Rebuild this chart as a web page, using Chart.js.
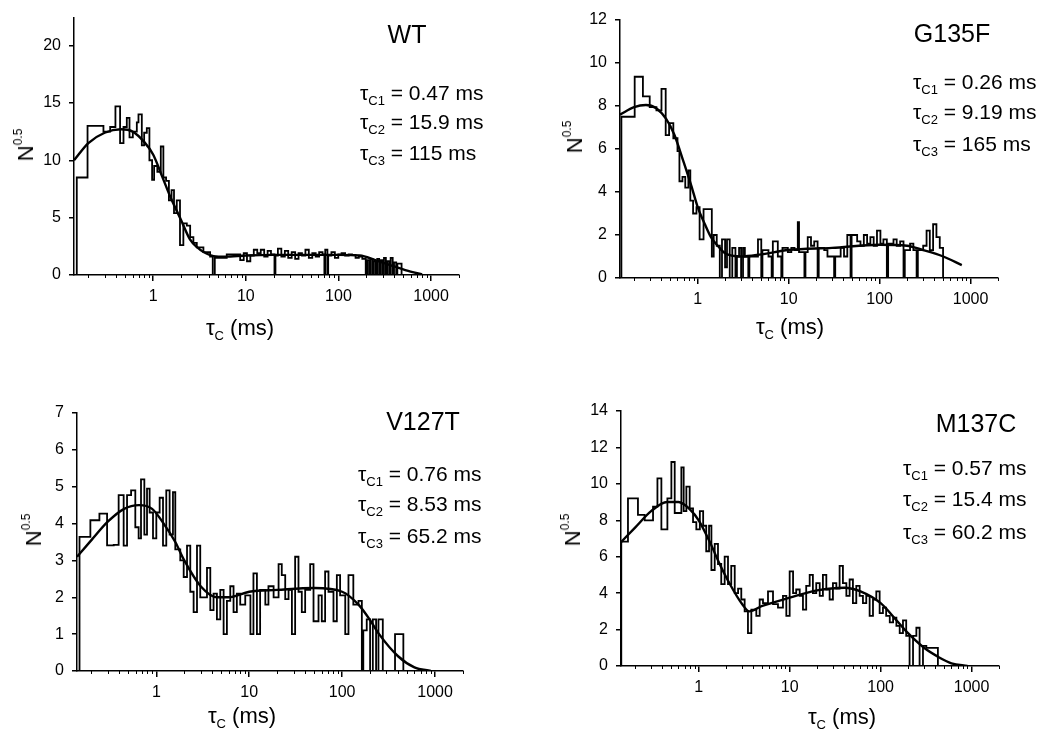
<!DOCTYPE html>
<html>
<head>
<meta charset="utf-8">
<script src="https://cdn.jsdelivr.net/npm/chart.js@4.4.1/dist/chart.umd.min.js"></script>
<style>
  body { margin: 0; background: #fff; width: 1063px; height: 736px; overflow: hidden; position: relative;
         font-family: "Liberation Sans", Arial, sans-serif; color: #000; }
  canvas { position: absolute; left: 0; top: 0; }
  .lbl { position: absolute; white-space: nowrap; line-height: 1; }
  .title { font-size: 25px; transform: translate(-50%, -50%); }
  .tau { font-size: 21px; transform: translateY(-50%); }
  .axt { font-size: 22px; transform: translate(-50%, -50%); }
  .rot { font-size: 22px; transform: translate(-50%, -50%) rotate(-90deg); }
  sub { font-size: 13px; vertical-align: -5px; line-height: 0; }
  sup { font-size: 12px; vertical-align: 11px; line-height: 0; }
</style>
</head>
<body>
<canvas id="cWT" width="1063" height="736"></canvas>
<canvas id="cG135F" width="1063" height="736"></canvas>
<canvas id="cV127T" width="1063" height="736"></canvas>
<canvas id="cM137C" width="1063" height="736"></canvas>

<!-- textos de los paneles -->
<div class="lbl title" style="left:407px; top:34px">WT</div>
<div class="lbl tau" style="left:360px; top:92px">τ<sub>C1</sub> = 0.47 ms</div>
<div class="lbl tau" style="left:360px; top:121px">τ<sub>C2</sub> = 15.9 ms</div>
<div class="lbl tau" style="left:360px; top:152px">τ<sub>C3</sub> = 115 ms</div>
<div class="lbl axt" style="left:240px; top:328px">τ<sub>C</sub> (ms)</div>
<div class="lbl rot" style="left:26px; top:145px">N<sup>0.5</sup></div>

<div class="lbl title" style="left:952px; top:33px">G135F</div>
<div class="lbl tau" style="left:913px; top:81px">τ<sub>C1</sub> = 0.26 ms</div>
<div class="lbl tau" style="left:913px; top:111px">τ<sub>C2</sub> = 9.19 ms</div>
<div class="lbl tau" style="left:913px; top:143px">τ<sub>C3</sub> = 165 ms</div>
<div class="lbl axt" style="left:790px; top:327px">τ<sub>C</sub> (ms)</div>
<div class="lbl rot" style="left:575px; top:137px">N<sup>0.5</sup></div>

<div class="lbl title" style="left:423px; top:421px">V127T</div>
<div class="lbl tau" style="left:358px; top:473px">τ<sub>C1</sub> = 0.76 ms</div>
<div class="lbl tau" style="left:358px; top:503px">τ<sub>C2</sub> = 8.53 ms</div>
<div class="lbl tau" style="left:358px; top:535px">τ<sub>C3</sub> = 65.2 ms</div>
<div class="lbl axt" style="left:242px; top:716px">τ<sub>C</sub> (ms)</div>
<div class="lbl rot" style="left:34px; top:530px">N<sup>0.5</sup></div>

<div class="lbl title" style="left:976px; top:423px">M137C</div>
<div class="lbl tau" style="left:903px; top:467px">τ<sub>C1</sub> = 0.57 ms</div>
<div class="lbl tau" style="left:903px; top:498px">τ<sub>C2</sub> = 15.4 ms</div>
<div class="lbl tau" style="left:903px; top:531px">τ<sub>C3</sub> = 60.2 ms</div>
<div class="lbl axt" style="left:842px; top:717px">τ<sub>C</sub> (ms)</div>
<div class="lbl rot" style="left:573px; top:530px">N<sup>0.5</sup></div>

<script>
// ejes x (log, ms)
const xMajorTicks = [1, 10, 100, 1000];
const xMinorTicks = [0.2, 0.3, 0.4, 0.5, 0.6, 0.7, 0.8, 0.9,
  2, 3, 4, 5, 6, 7, 8, 9, 20, 30, 40, 50, 60, 70, 80, 90,
  200, 300, 400, 500, 600, 700, 800, 900, 2000];

/*------------------------------------------
WT
-------------------------------------------*/
const wtEdges = [0.15, 0.196, 0.291, 0.344, 0.392, 0.44, 0.479, 0.52, 0.556, 0.604,
  0.667, 0.695, 0.755, 0.80, 0.855, 0.912, 0.975, 1.025, 1.11, 1.21,
  1.29, 1.38, 1.48, 1.58, 1.68, 1.80, 1.95, 2.12, 2.31, 2.51,
  2.72, 2.96, 3.49, 4.12, 4.40, 4.63, 5.28, 6.23, 8.0,
  8.7, 9.5, 10.3, 11.2, 12.2, 13.3, 14.5, 15.8, 17.2, 18.7,
  20.4, 20.9, 22.2, 24.2, 26.4, 28.7, 31.3, 34.1, 37.1, 40.4,
  44, 47.9, 52.2, 56.8, 61.9, 67.4, 70.5, 72, 76, 77.5,
  84, 91.5, 99.6, 108, 118, 129, 140, 153, 166, 181,
  197, 205, 215, 222, 233, 241, 253, 262, 275, 285,
  299, 310, 325, 337, 354, 366, 385, 398, 420, 432, 480];
const wtCounts = [8.5, 13.0, 12.5, 12.9, 14.7, 11.5, 12.9, 13.7, 12.0, 12.5,
  13.3, 14.0, 11.3, 12.4, 12.8, 10.0, 8.3, 9.5, 9.0, 11.2,
  8.5, 8.2, 6.5, 7.4, 5.4, 6.5, 2.6, 4.5, 4.3, 3.3,
  2.8, 2.4, 2.0, 1.6, 0, 1.5, 1.5, 1.8,
  1.8, 1.3, 1.9, 1.2, 1.7, 2.2, 1.9, 2.2, 1.6, 2.1,
  1.8, 0, 1.7, 2.3, 1.6, 2.1, 1.5, 2.0, 1.4, 1.9,
  1.7, 2.2, 1.5, 1.9, 1.6, 2.0, 1.8, 0, 2.2, 0,
  1.7, 2.0, 1.5, 1.8, 1.9, 1.7, 1.8, 1.75, 1.5, 1.6,
  1.4, 0, 1.3, 0, 1.4, 0, 1.2, 0, 1.4, 0,
  1.3, 0, 1.5, 0, 1.2, 0, 1.5, 0, 1.1, 0, 1.0];
const wtFitX = [0.14, 0.2, 0.3, 0.45, 0.6, 0.8, 1.0, 1.25, 1.5, 2.0, 2.5, 3.0, 3.5, 4.5,
  6, 10, 20, 50, 100, 170, 250, 400, 600, 800];
const wtFitY = [10.0, 11.5, 12.4, 12.7, 12.5, 11.6, 10.5, 8.6, 7.0, 4.8, 3.1, 2.4, 2.0, 1.65,
  1.6, 1.7, 1.75, 1.75, 1.75, 1.7, 1.3, 0.75, 0.3, 0.05];
const wtYTicks = [0, 5, 10, 15, 20];

/*------------------------------------------
G135F
-------------------------------------------*/
const g135fEdges = [0.145, 0.203, 0.25, 0.297, 0.352, 0.40, 0.445, 0.485, 0.54, 0.60,
  0.63, 0.68, 0.73, 0.79, 0.83, 0.89, 0.97, 1.05, 1.16, 1.43,
  1.5, 1.62, 1.75, 1.85, 2.0, 2.1, 2.25, 2.4, 2.6, 2.7,
  2.85, 3.0, 3.15, 3.3, 3.6,
  3.7, 4.6, 5.0, 5.15, 6.0, 6.5, 6.7, 7.6, 8.3, 8.55,
  9.8, 10.7, 11.6, 12.6, 13.0, 14.9, 15.3, 16.2, 17.6, 19.1,
  20.8, 21.4, 24.6, 26.7, 31.6, 32.5, 37.3, 40.6, 44.1, 47.9,
  49.2, 56.6, 61.6, 67, 72.8, 79.1, 86, 93.5, 102, 110,
  120, 124, 142, 154, 168, 183, 189, 216, 235, 255,
  263, 301, 328, 356, 387, 421, 458, 498];
const g135fCounts = [7.5, 9.36, 8.45, 7.95, 7.8, 8.8, 6.65, 7.2, 6.5, 5.9,
  4.5, 4.7, 4.2, 5.0, 3.6, 3.0, 3.3, 1.8, 3.2, 1.0,
  2.0, 1.5, 0, 1.8, 0.5, 1.8, 0, 1.4, 0, 1.0,
  1.4, 0, 1.4, 1.0,
  0, 1.0, 1.8, 0, 1.3, 1.0, 0, 1.7, 1.0, 0,
  1.4, 1.2, 1.4, 1.3, 2.6, 1.2, 0, 1.2, 1.9, 1.5,
  1.7, 0, 1.4, 1.3, 1.0, 0, 1.0, 1.4, 1.0, 2.0,
  0, 2.0, 1.7, 1.5, 2.0, 1.6, 1.9, 1.5, 2.2, 1.6,
  1.8, 0, 1.6, 1.8, 1.5, 1.7, 0, 1.3, 1.6, 1.3,
  0, 1.3, 1.5, 2.2, 1.3, 2.5, 1.9, 1.4];
const g135fFitX = [0.14, 0.2, 0.27, 0.35, 0.45, 0.55, 0.7, 0.85, 1.0, 1.2, 1.4, 1.7, 2.0,
  3.0, 5, 10, 30, 100, 200, 300, 500, 800];
const g135fFitY = [7.6, 7.95, 8.05, 7.9, 7.4, 6.7, 5.4, 4.3, 3.3, 2.5, 1.9, 1.45, 1.15,
  1.0, 1.1, 1.3, 1.4, 1.55, 1.5, 1.3, 1.0, 0.6];
const g135fYTicks = [0, 2, 4, 6, 8, 10, 12];

/*------------------------------------------
V127T
-------------------------------------------*/
const v127tEdges = [0.149, 0.195, 0.244, 0.295, 0.348, 0.393, 0.445, 0.484, 0.535, 0.594,
  0.645, 0.684, 0.743, 0.794, 0.847, 0.921, 1.0, 1.086, 1.18, 1.28,
  1.39, 1.51, 1.60, 1.81, 1.97, 2.14, 2.32, 2.52, 2.74, 2.97,
  3.51, 3.81, 4.13, 4.49, 4.88, 5.30, 5.75, 6.25, 6.78, 7.36,
  8.00, 9.06, 10.3, 11.1, 12.1, 13.1, 14.9, 16.1, 18.3, 20.7,
  22.4, 24.4, 26.5, 28.8, 31.2, 33.9, 36.8, 40.0, 45.3, 49.2,
  55.7, 60.4, 65.6, 71.3, 80.7, 87.7, 95.1, 108, 117, 132,
  150, 163, 169, 184, 200, 214, 232, 246, 274, 371, 456];
const v127tCounts = [3.64, 4.09, 4.27, 3.41, 3.42, 4.77, 3.4, 4.77, 4.9, 3.9,
  3.6, 5.2, 3.7, 4.95, 4.3, 3.6, 4.3, 4.7, 3.4, 4.9,
  3.7, 4.85, 3.3, 3.0, 2.55, 3.4, 2.15, 1.6, 3.4, 2.0,
  2.8, 1.65, 2.1, 1.4, 2.2, 1.0, 1.9, 2.3, 1.6, 2.1,
  1.8, 2.05, 1.0, 2.65, 1.0, 2.2, 1.8, 2.3, 2.0, 2.9,
  2.6, 1.95, 2.2, 1.0, 3.1, 2.15, 1.6, 2.2, 2.9, 1.35,
  2.05, 1.35, 2.7, 2.15, 1.35, 2.6, 2.05, 1.0, 2.6, 1.8,
  1.9, 0, 1.1, 1.4, 0, 1.4, 0, 1.4, 0, 1.0];
const v127tFitX = [0.14, 0.2, 0.3, 0.45, 0.65, 0.9, 1.2, 1.6, 2.0, 3.0, 4.5, 6, 10, 20,
  50, 100, 150, 200, 250, 400, 600, 900];
const v127tFitY = [3.1, 3.55, 4.05, 4.4, 4.5, 4.4, 4.0, 3.5, 3.0, 2.3, 2.0, 2.0, 2.15, 2.2,
  2.25, 2.15, 1.8, 1.38, 1.0, 0.4, 0.1, 0.0];
const v127tYTicks = [0, 1, 2, 3, 4, 5, 6, 7];

/*------------------------------------------
M137C
-------------------------------------------*/
const m137cEdges = [0.141, 0.167, 0.215, 0.255, 0.315, 0.352, 0.389, 0.453, 0.501, 0.545,
  0.645, 0.684, 0.732, 0.796, 0.867, 0.942, 1.03, 1.12, 1.21, 1.30,
  1.38, 1.50, 1.63, 1.77, 1.93, 2.10, 2.28, 2.49, 2.71, 2.94,
  3.20, 3.48, 3.79, 4.30, 4.68, 5.09, 5.78, 6.56, 7.44, 8.44,
  9.19, 10.0, 10.9, 11.8, 12.9, 14.0, 15.2, 16.6, 18.0, 19.6,
  21.4, 23.2, 25.3, 27.5, 29.9, 32.6, 35.4, 38.5, 42.0, 45.6,
  49.6, 54.0, 58.8, 63.9, 69.5, 75.7, 82.4, 89.6, 97.5, 106,
  115, 126, 137, 149, 162, 176, 191, 208, 227, 247,
  268, 292, 318, 426];
const m137cCounts = [6.83, 9.2, 8.3, 8.0, 8.75, 10.3, 7.5, 9.2, 11.2, 8.4,
  10.9, 8.5, 9.85, 8.65, 7.9, 7.5, 8.5, 7.7, 6.3, 7.7,
  5.27, 6.7, 5.6, 4.5, 6.0, 4.5, 5.5, 4.0, 4.25, 3.65,
  3.0, 1.8, 3.1, 2.75, 3.65, 3.45, 4.1, 3.4, 3.2, 3.85,
  2.75, 5.2, 4.0, 4.2, 3.85, 3.1, 4.4, 5.0, 4.0, 4.55,
  3.85, 5.0, 4.2, 3.65, 4.55, 4.25, 5.5, 4.55, 3.85, 4.75,
  3.45, 4.4, 3.85, 3.45, 3.85, 2.75, 3.65, 4.1, 2.9, 3.2,
  2.75, 2.4, 2.65, 2.2, 1.8, 2.5, 1.65, 0, 1.65, 2.1,
  0, 1.1, 1.0];
const m137cFitX = [0.14, 0.2, 0.3, 0.45, 0.6, 0.8, 1.0, 1.3, 1.7, 2.2, 3.0, 3.6, 5, 10,
  20, 40, 60, 100, 150, 200, 300, 430, 600, 900];
const m137cFitY = [6.8, 7.6, 8.5, 9.0, 9.0, 8.6, 8.0, 6.9, 5.6, 4.5, 3.4, 3.0, 3.3, 3.75,
  4.15, 4.3, 4.1, 3.45, 2.5, 1.8, 1.0, 0.5, 0.15, 0.0];
const m137cYTicks = [0, 2, 4, 6, 8, 10, 12, 14];

// marcas menores del eje x
const minorTicksPlugin = {
  id: "minorTicks",
  afterDraw(chart) {
    const s = chart.scales.x;
    const c = chart.ctx;
    c.save();
    c.strokeStyle = "#000";
    c.lineWidth = 1;
    c.beginPath();
    xMinorTicks.forEach((v) => {
      const px = Math.round(s.getPixelForValue(v)) + 0.5;
      c.moveTo(px, s.top);
      c.lineTo(px, s.top + 3);
    });
    c.stroke();
    c.restore();
  },
};

// histograma escalonado a partir de bordes y cuentas
function histPoints(edges, counts) {
  const pts = [{ x: edges[0], y: 0 }];
  counts.forEach((c, i) => pts.push({ x: edges[i], y: c }));
  pts.push({ x: edges[edges.length - 1], y: 0 });
  return pts;
}

function fitPoints(xs, ys) {
  return xs.map((x, i) => ({ x: x, y: ys[i] }));
}

const tickFont = { family: "'Liberation Sans', Arial, sans-serif", size: 16 };

function makePanel(id, area, edges, counts, fitX, fitY, yMax, yTicks) {
  const W = 1063, H = 736, AX = 40;
  return new Chart(document.getElementById(id).getContext("2d"), {
    type: "line",
    data: {
      datasets: [
        {
          data: histPoints(edges, counts),
          stepped: true,
          borderColor: "#000",
          borderWidth: 1.8,
          pointRadius: 0,
          fill: false,
        },
        {
          data: fitPoints(fitX, fitY),
          cubicInterpolationMode: "monotone",
          borderColor: "#000",
          borderWidth: 2.4,
          pointRadius: 0,
          fill: false,
        },
      ],
    },
    options: {
      responsive: false,
      animation: false,
      events: [],
      layout: {
        padding: {
          left: area.left - AX,
          top: area.top,
          right: W - area.right,
          bottom: H - area.bottom - AX,
        },
      },
      plugins: { legend: { display: false }, tooltip: { enabled: false } },
      scales: {
        x: {
          type: "logarithmic",
          min: 0.14,
          max: 2000,
          afterBuildTicks: (s) => { s.ticks = xMajorTicks.map((v) => ({ value: v })); },
          afterFit: (s) => { s.height = AX; },
          ticks: {
            font: tickFont, color: "#000", padding: 6,
            maxRotation: 0, autoSkip: false,
            callback: (v) => String(v),
          },
          grid: { drawOnChartArea: false, tickLength: 6, color: "#000", lineWidth: 1.5 },
          border: { color: "#000", width: 1.5 },
        },
        y: {
          min: 0,
          max: yMax,
          afterBuildTicks: (s) => { s.ticks = yTicks.map((v) => ({ value: v })); },
          afterFit: (s) => { s.width = AX; },
          ticks: { font: tickFont, color: "#000", padding: 8 },
          grid: { drawOnChartArea: false, tickLength: 5, color: "#000", lineWidth: 1.5 },
          border: { color: "#000", width: 1.5 },
        },
      },
    },
    plugins: [minorTicksPlugin],
  });
}

makePanel("cWT", { left: 74, right: 459, top: 18, bottom: 275 },
  wtEdges, wtCounts, wtFitX, wtFitY, 22.4, wtYTicks);
makePanel("cG135F", { left: 620, right: 998, top: 20, bottom: 278 },
  g135fEdges, g135fCounts, g135fFitX, g135fFitY, 12, g135fYTicks);
makePanel("cV127T", { left: 77, right: 463, top: 413, bottom: 671 },
  v127tEdges, v127tCounts, v127tFitX, v127tFitY, 7, v127tYTicks);
makePanel("cM137C", { left: 621, right: 999, top: 411, bottom: 666 },
  m137cEdges, m137cCounts, m137cFitX, m137cFitY, 14, m137cYTicks);
</script>
</body>
</html>
